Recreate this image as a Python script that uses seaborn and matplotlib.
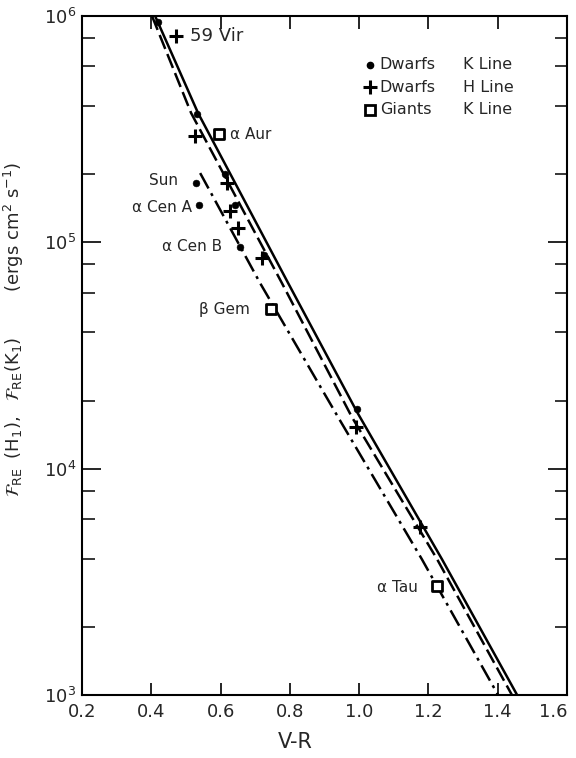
import numpy as np
import pandas as pd
import matplotlib
matplotlib.use("Agg")
import matplotlib.pyplot as plt
from matplotlib import font_manager
from matplotlib.ticker import LogLocator, NullFormatter, FixedLocator
import seaborn as sns

# Observed points (V-R colour, surface flux)
dwarf_k_vr = [0.419, 0.532, 0.613, 0.642, 0.529, 0.538, 0.656, 0.725, 0.994]
dwarf_k_flux = [9.4e5, 3.7e5, 2.0e5, 1.46e5, 1.83e5, 1.46e5, 9.5e4, 8.8e4, 1.84e4]

dwarf_h_vr = [0.471, 0.526, 0.619, 0.627, 0.650, 0.720, 0.990, 1.176]
dwarf_h_flux = [8.2e5, 2.95e5, 1.82e5, 1.38e5, 1.16e5, 8.5e4, 1.53e4, 5.5e3]

giant_k_vr = [0.596, 0.746, 1.225]
giant_k_flux = [3.0e5, 5.06e4, 3.04e3]

# Mean relations (log flux vs V-R)
solid_vr = [0.411, 0.535, 0.795, 0.994, 1.239, 1.456]
solid_logf = [6.0, 5.571, 4.820, 4.250, 3.600, 3.0]

dashed_vr = [0.402, 0.515, 0.777, 0.979, 1.225, 1.441]
dashed_logf = [6.0, 5.571, 4.820, 4.228, 3.600, 3.0]

dashdot_vr = [0.541, 0.714, 0.939, 1.181, 1.401]
dashdot_logf = [5.306, 4.820, 4.228, 3.600, 3.0]

# Star names
star_names = ["59 Vir", "α Aur", "Sun", "α Cen A", "α Cen B", "β Gem", "α Tau"]
star_vr = [0.512, 0.627, 0.477, 0.518, 0.604, 0.685, 1.170]
star_flux = [8.2e5, 2.98e5, 1.88e5, 1.42e5, 9.6e4, 5.03e4, 3.0e3]
star_ha = ["left", "left", "right", "right", "right", "right", "right"]

x_ticks = [0.2, 0.4, 0.6, 0.8, 1.0, 1.2, 1.4, 1.6]
x_tick_labels = ["0.2", "0.4", "0.6", "0.8", "1.0", "1.2", "1.4", "1.6"]

sns.set_style("ticks")
plt.rcParams["font.family"] = ["DejaVu Sans"]
plt.rcParams["mathtext.fontset"] = "dejavusans"

# narrow face for the colour-axis numbers, if available
try:
    font_manager.findfont("Liberation Sans Narrow", fallback_to_default=False)
    num_family = "Liberation Sans Narrow"
    num_size = 15
except Exception:
    num_family = "DejaVu Sans"
    num_size = 13

fig = plt.figure(figsize=(5.76, 7.58), dpi=100)
ax = fig.add_axes([0.1424, 0.0831, 0.8420, 0.8958])

lines = [
    (solid_vr, solid_logf, "-"),
    (dashed_vr, dashed_logf, (0, (6, 2.2))),
    (dashdot_vr, dashdot_logf, (0, (7, 2.2, 1.2, 2.2))),
]
for vr, logf, ls in lines:
    df = pd.DataFrame({"vr": vr, "flux": 10 ** np.array(logf)})
    sns.lineplot(data=df, x="vr", y="flux", ax=ax, color="black", lw=1.8,
                 linestyle=ls, sort=False, estimator=None)

sns.scatterplot(x=dwarf_k_vr, y=dwarf_k_flux, ax=ax, marker="o", s=24,
                color="black", edgecolor="black", zorder=5)
sns.scatterplot(x=dwarf_h_vr, y=dwarf_h_flux, ax=ax, marker="+", s=110,
                color="black", linewidth=2.2, zorder=5)
sns.scatterplot(x=giant_k_vr, y=giant_k_flux, ax=ax, marker="s", s=55,
                facecolor="white", edgecolor="black", linewidth=2.0, zorder=5)

for name, vx, fy, ha in zip(star_names, star_vr, star_flux, star_ha):
    size = 13 if name == "59 Vir" else 11
    ax.text(vx, fy, name, ha=ha, va="center", fontsize=size)

# Key
key_rows = [("o", "Dwarfs", "K Line"), ("+", "Dwarfs", "H Line"), ("s", "Giants", "K Line")]
key_y = [0.928, 0.895, 0.862]
for (mk, who, line), yy in zip(key_rows, key_y):
    if mk == "o":
        ax.plot([0.594], [yy], marker="o", ms=4.5, color="black", transform=ax.transAxes, clip_on=False)
    elif mk == "+":
        ax.plot([0.594], [yy], marker="+", ms=10, mew=2.2, color="black", transform=ax.transAxes, clip_on=False)
    else:
        ax.plot([0.594], [yy], marker="s", ms=7, mew=2.0, mfc="white", mec="black", transform=ax.transAxes, clip_on=False)
    ax.text(0.614, yy, who, transform=ax.transAxes, ha="left", va="center", fontsize=11.5)
    ax.text(0.785, yy, line, transform=ax.transAxes, ha="left", va="center", fontsize=11.5)

ax.set_yscale("log")
ax.set_xlim(0.2, 1.6)
ax.set_ylim(1e3, 1e6)

ax.xaxis.set_major_locator(FixedLocator(x_ticks))
ax.set_xticklabels(x_tick_labels, family=num_family, fontsize=num_size)
ax.yaxis.set_major_locator(LogLocator(base=10, numticks=10))
ax.yaxis.set_minor_locator(LogLocator(base=10, subs=[2, 4, 6, 8], numticks=10))
ax.yaxis.set_minor_formatter(NullFormatter())

ax.tick_params(axis="both", which="both", direction="in", top=True, right=True, color="black")
ax.tick_params(axis="x", which="major", length=9, width=1.2, pad=6)
ax.tick_params(axis="y", which="major", length=14, width=1.2, labelsize=13, pad=4)
ax.tick_params(axis="y", which="minor", length=9, width=1.1)

# keep the last colour value inside the canvas
last = ax.get_xticklabels()[-1]
if num_family == "DejaVu Sans":
    last.set_horizontalalignment("right")

for sp in ax.spines.values():
    sp.set_linewidth(1.5)
    sp.set_color("black")

ax.set_xlabel("V-R", fontsize=15, labelpad=6)
ax.set_ylabel(r"$\mathcal{F}_{\rm RE}\;\;(\mathrm{H}_1),\ \ \mathcal{F}_{\rm RE}(\mathrm{K}_1)$        (ergs cm$^{2}$ s$^{-1}$)",
              fontsize=13)
ax.yaxis.set_label_coords(-0.115, 0.538)
ax.xaxis.set_label_coords(0.44, -0.055)

fig.savefig("out.png", dpi=100, facecolor="white")
